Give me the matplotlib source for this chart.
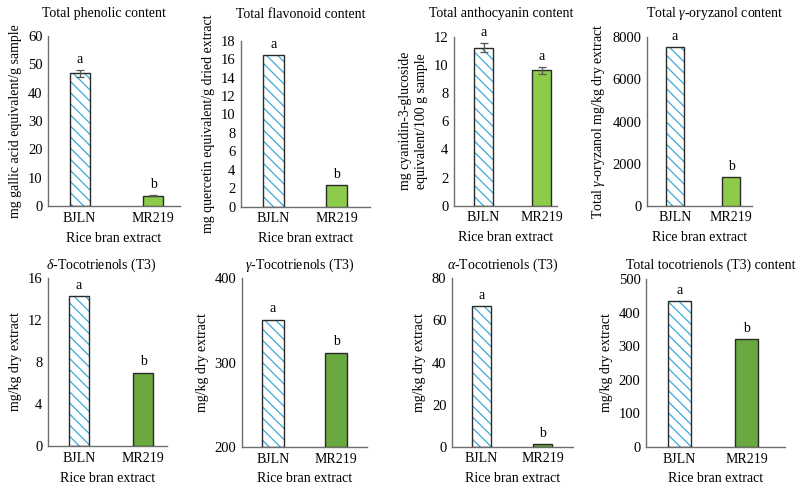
import matplotlib
matplotlib.use("Agg")
import matplotlib.pyplot as plt
import numpy as np

plt.rcParams['font.family'] = ['Liberation Serif', 'DejaVu Serif']
plt.rcParams['mathtext.fontset'] = 'custom'
plt.rcParams['mathtext.rm'] = 'Liberation Serif'
plt.rcParams['mathtext.it'] = 'Liberation Serif:italic'
plt.rcParams['hatch.linewidth'] = 0.9

# ---------------- data ----------------
categories = ["BJLN", "MR219"]

titles = [
    "Total phenolic content",
    "Total flavonoid content",
    "Total anthocyanin content",
    r"Total $\gamma$-oryzanol content",
    r"$\delta$-Tocotrienols (T3)",
    r"$\gamma$-Tocotrienols (T3)",
    r"$\alpha$-Tocotrienols (T3)",
    "Total tocotrienols (T3) content",
]
ylabels = [
    "mg gallic acid equivalent/g sample",
    "mg quercetin equivalent/g dried extract",
    "mg cyanidin-3-glucoside\nequivalent/100 g sample",
    r"Total $\gamma$-oryzanol mg/kg dry extract",
    "mg/kg dry extract",
    "mg/kg dry extract",
    "mg/kg dry extract",
    "mg/kg dry extract",
]
xlabel = "Rice bran extract"

phenolic = [46.8, 3.6]
flavonoid = [16.4, 2.3]
anthocyanin = [11.2, 9.6]
oryzanol = [7540, 1360]
delta_t3 = [14.25, 7.0]
gamma_t3 = [351, 312]
alpha_t3 = [66.8, 1.4]
total_t3 = [434, 321]
values = [phenolic, flavonoid, anthocyanin, oryzanol, delta_t3, gamma_t3, alpha_t3, total_t3]

phenolic_err = [1.3, 0.15]
anthocyanin_err = [0.32, 0.27]
errors = [phenolic_err, None, anthocyanin_err, None, None, None, None, None]

letters = [["a", "b"], ["a", "b"], ["a", "a"], ["a", "b"],
           ["a", "b"], ["a", "b"], ["a", "b"], ["a", "b"]]

yticks = [
    [0, 10, 20, 30, 40, 50, 60],
    [0, 2, 4, 6, 8, 10, 12, 14, 16, 18],
    [0, 2, 4, 6, 8, 10, 12],
    [0, 2000, 4000, 6000, 8000],
    [0, 4, 8, 12, 16],
    [200, 300, 400],
    [0, 20, 40, 60, 80],
    [0, 100, 200, 300, 400, 500],
]

# ---------------- layout (pixels) ----------------
W, H = 800, 490
# axis box: x0, x1, ytop, ybottom
boxes = [
    (48, 180, 36, 206),
    (241, 370, 40.7, 206.7),
    (454, 557, 36.7, 205.7),
    (647, 752, 37.3, 205.7),
    (48, 167, 277.7, 446.3),
    (242, 367, 278.3, 447),
    (452, 573, 278.3, 446.7),
    (646, 785, 279, 447),
]
# bar centers in px and bar width px
centers = [
    (79.5, 153, 20), (273.5, 336.5, 21), (483.5, 541.5, 19), (675, 731, 18),
    (79, 143, 20), (273, 336, 22), (481.5, 542.5, 19), (679.5, 746.5, 23),
]
title_pos = [(104, 14), (301, 14), (501, 14), (715, 14),
             (101, 265), (300, 265), (503, 265), (711, 265)]

green_colors = ["#8dcc4b"] * 4 + ["#6aa840"] * 4
hatch_color = "#3aa9d9"
edge = "#2a2a2a"
spine_col = "#6e6e6e"
fs = 10
tfs = 10.5

fig = plt.figure(figsize=(W / 100, H / 100), dpi=100)
fig.patch.set_facecolor("white")

for i in range(8):
    x0, x1, yt, yb = boxes[i]
    ax = fig.add_axes([x0 / W, 1 - yb / H, (x1 - x0) / W, (yb - yt) / H])
    c0, c1, bwpx = centers[i]
    unit = c1 - c0
    ax.set_xlim(-(c0 - x0) / unit, 1 + (x1 - c1) / unit)
    bw = bwpx / unit
    ymin, ymax = yticks[i][0], yticks[i][-1]
    ax.set_ylim(ymin, ymax)
    x = np.arange(len(categories))
    v = values[i]
    heights = [val - ymin for val in v]
    # hatched bar
    ax.bar(x[0], heights[0], bw, bottom=ymin, color="white", edgecolor=hatch_color,
           hatch="\\\\\\", linewidth=0, zorder=2)
    ax.bar(x[0], heights[0], bw, bottom=ymin, fill=False, edgecolor=edge, linewidth=1.0, zorder=3)
    # green bar
    ax.bar(x[1], heights[1], bw, bottom=ymin, color=green_colors[i], edgecolor=edge,
           linewidth=1.0, zorder=3)
    tops = list(v)
    if errors[i] is not None:
        ax.errorbar(x, v, yerr=errors[i], fmt="none", ecolor="#555555", elinewidth=0.9,
                    capsize=3, capthick=0.9, zorder=4)
        tops = [v[k] + errors[i][k] for k in range(2)]
    for k in range(2):
        ax.annotate(letters[i][k], (x[k], tops[k]), xytext=(0, 3), textcoords="offset points",
                    ha="center", va="bottom", fontsize=fs)
    ax.set_xticks(x)
    ax.set_xticklabels(categories, fontsize=fs)
    ax.set_yticks(yticks[i])
    ax.tick_params(axis="x", length=0, labelsize=fs, pad=4)
    ax.tick_params(axis="y", length=0, labelsize=tfs, pad=4)
    for s in ["top", "right"]:
        ax.spines[s].set_visible(False)
    for s in ["left", "bottom"]:
        ax.spines[s].set_color(spine_col)
        ax.spines[s].set_linewidth(1.0)
    ax.set_xlabel(xlabel, fontsize=fs, labelpad=5)
    ax.set_ylabel(ylabels[i], fontsize=fs, labelpad=4, linespacing=1.3)
    tx, ty = title_pos[i]
    fig.text(tx / W, 1 - ty / H, titles[i], ha="center", va="center", fontsize=fs)

fig.savefig("out.png", dpi=100, facecolor="white")
